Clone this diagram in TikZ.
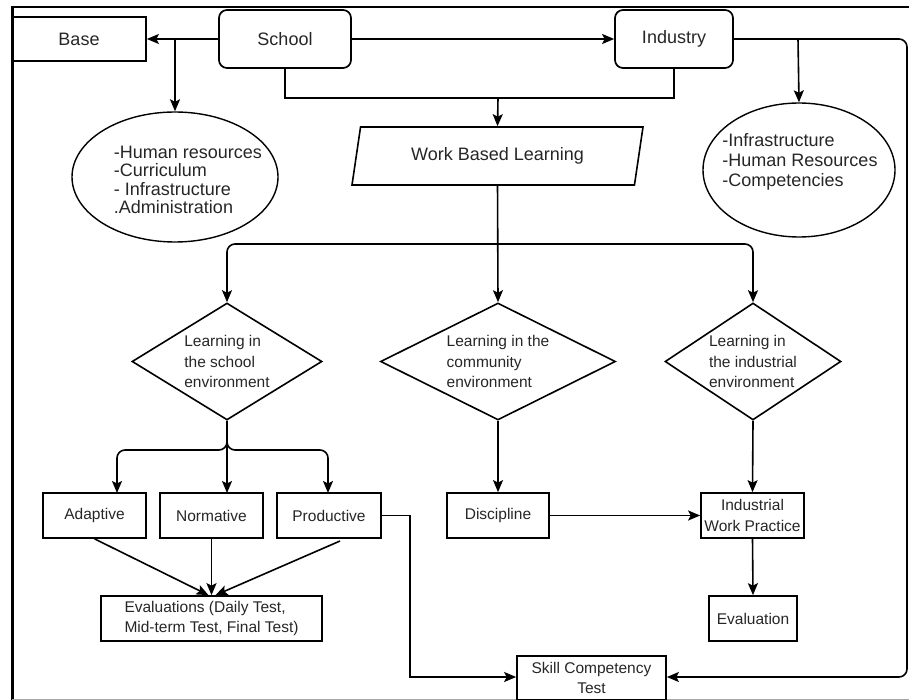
\documentclass[tikz,border=0pt]{standalone}
\usepackage{fontspec}
\setmainfont{Liberation Sans}
\usetikzlibrary{shapes.geometric,arrows.meta,calc}
\begin{document}
\begin{tikzpicture}[x=1pt,y=-1pt,
  txt/.style={text=black!85},
  big/.style={font=\fontsize{18}{19.5}\selectfont},
  small/.style={font=\fontsize{15.5}{20.5}\selectfont},
  box/.style={draw, rectangle, line width=1.7pt, minimum height=45pt, inner sep=1pt, align=center, txt, small},
  rbox/.style={draw, rectangle, rounded corners=8pt, line width=1.7pt, minimum height=58pt, txt, big},
  ell/.style={draw, ellipse, line width=1.4pt, inner sep=0pt},
  dia/.style={draw, diamond, line width=1.6pt, inner sep=0pt, align=left, txt, small, minimum height=117pt},
  arr/.style={-{Stealth[length=12pt,width=10pt,inset=2.5pt]}, line width=1.6pt},
  conn/.style={line width=1.6pt}
]
\useasboundingbox (0,0) rectangle (909,700);
% frame
\draw[line width=3pt] (12,7) -- (12,700);
\draw[line width=2.5pt] (11,7) -- (909,7);
\draw[line width=1.2pt, black!35] (12,699.5) -- (909,699.5);

% top row
\node[box, big, minimum width=134pt, minimum height=44pt] (base) at (79,39) {Base};
\node[rbox, minimum width=132pt] (school) at (285,39) {School};
\node[rbox, minimum width=118pt] (industry) at (674,39) {Industry};

% ellipses
\node[ell, minimum width=206pt, minimum height=130pt] (hr) at (175,177) {};
\node[txt, big, align=left, inner sep=0pt, font=\fontsize{18}{18.5}\selectfont] (hrt) at (188,180) {-Human resources\\-Curriculum\\- Infrastructure\\.Administration};
\node[ell, minimum width=192pt, minimum height=134pt] (ir) at (799,170) {};
\node[txt, big, align=left, inner sep=0pt, font=\fontsize{18}{20}\selectfont] (irt) at (800,162) {-Infrastructure\\-Human Resources\\-Competencies};

% work based learning
\node[draw, trapezium, trapezium left angle=63, trapezium right angle=117, trapezium stretches body=true,
      minimum width=291pt, minimum height=58pt, line width=1.6pt, inner sep=0pt, txt, big] (wbl) at (497.5,156) {Work Based Learning};

% diamonds
\node[dia, minimum width=190pt, aspect=1.62] (d1) at (227,361.5) {Learning in\\the school\\environment};
\node[dia, minimum width=235pt, aspect=2] (d2) at (498,361.5) {Learning in the\\community\\environment};
\node[dia, minimum width=176pt, aspect=1.5, inner sep=-4pt] (d3) at (753,361.5) {Learning in\\the industrial\\environment};

% boxes
\node[box, minimum width=103pt] (adaptive) at (94.5,515.5) {Adaptive};
\node[box, minimum width=103pt] (normative) at (211.5,515.5) {Normative};
\node[box, minimum width=104pt] (productive) at (329,515.5) {Productive};
\node[box, minimum width=221pt, align=left] (evals) at (211.5,618.5) {Evaluations (Daily Test,\\Mid-term Test, Final Test)};
\node[box, minimum width=102pt] (discipline) at (498,515.5) {Discipline};
\node[box, minimum width=103pt, inner sep=0pt] (iwp) at (752.5,515.5) {Industrial\\Work Practice};
\node[box, minimum width=88pt] (evaluation) at (753,618.5) {Evaluation};
\node[box, minimum width=149pt, minimum height=44pt, inner sep=0pt] (skill) at (591.5,678) {Skill Competency\\Test};

% coordinates
\coordinate (j1) at (175,39);
\coordinate (j2) at (798,39);
\coordinate (rc1) at (907,39);
\coordinate (rc2) at (907,677);
\coordinate (bus) at (498,98);
\coordinate (j4) at (498,244);
\coordinate (k1) at (227,450);
\coordinate (adL) at (117,450);
\coordinate (prR) at (328,450);
\coordinate (adIn) at (117,493);
\coordinate (noIn) at (227,493);
\coordinate (prIn) at (328,493);
\coordinate (prOut) at (340,541);
\coordinate (pc) at (410,677);

% connectors
\draw[arr] (school.west) -- (base.east);
\draw[arr] (j1) -- (hr.north);
\draw[arr] (school.east) -- (industry.west);
\draw[arr] (j2) -- (ir.north);
\draw[arr, rounded corners=8pt] (industry.east) -- (rc1) -- (rc2) -- (skill.east |- rc2);
\draw[conn] (school.south) |- (bus) -| (industry.south);
\draw[arr] (bus) -- (wbl.north);
\draw[arr] (wbl.south) -- (d2.north);
\draw[arr, rounded corners=8pt] (j4) -| (d1.north);
\draw[arr, rounded corners=8pt] (j4) -| (d3.north);
\draw[arr] (d1.south) -- (noIn);
\draw[arr, rounded corners=8pt] (d1.south) -- (k1) -- (adL) -- (adIn);
\draw[arr, rounded corners=8pt] (d1.south) -- (k1) -- (prR) -- (prIn);
\draw[arr] (adaptive.south) -- ($(evals.north)+(-3,0)$);
\draw[arr] (normative.south) -- (evals.north);
\draw[arr] (prOut) -- ($(evals.north)+(4,0)$);
\draw[arr] (productive.east) -| (pc) -- (skill.west |- pc);
\draw[arr] (d2.south) -- (discipline.north);
\draw[arr] (discipline.east) -- (iwp.west);
\draw[arr] (d3.south) -- (iwp.north);
\draw[arr] (iwp.south) -- (evaluation.north);
\end{tikzpicture}
\end{document}
